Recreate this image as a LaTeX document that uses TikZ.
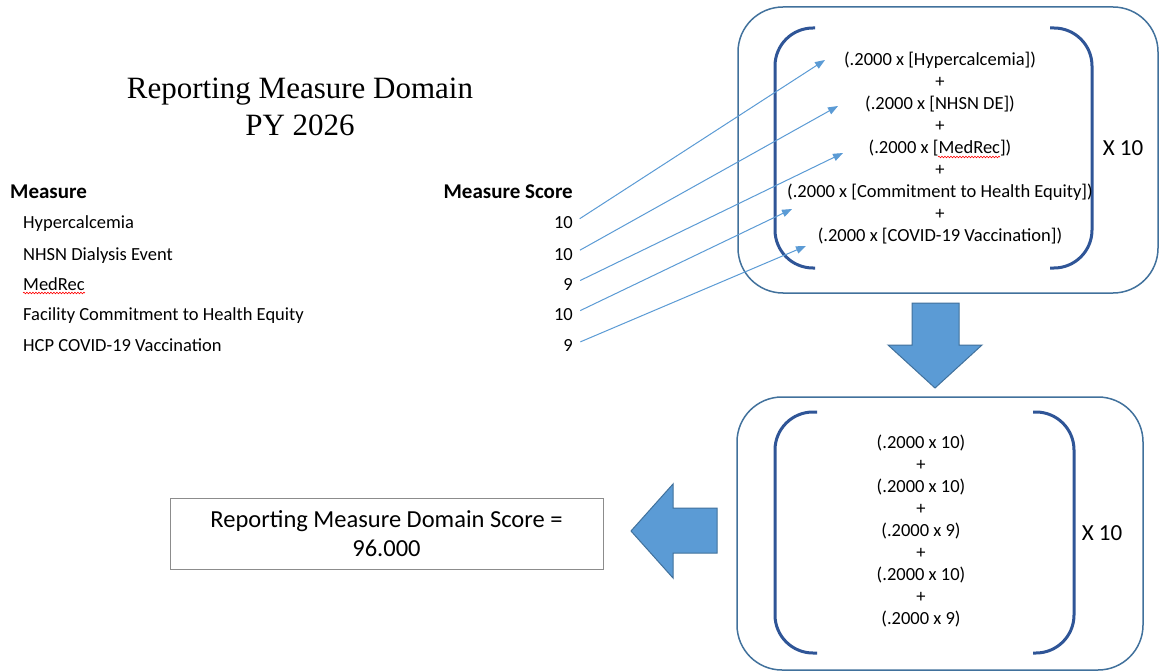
\documentclass[tikz,border=0pt]{standalone}
\usepackage{fontspec}
\setmainfont{Carlito}
\newfontfamily\titlefont{Liberation Serif}
\usetikzlibrary{arrows.meta,positioning,decorations.pathmorphing}
\definecolor{boxblue}{RGB}{65,113,156}
\definecolor{brackblue}{RGB}{47,85,151}
\definecolor{arrowblue}{RGB}{91,155,213}
\definecolor{framegray}{RGB}{140,140,140}

\begin{document}
\begin{tikzpicture}[x=1pt,y=-1pt,
  txt/.style={font=\fontsize{18.5}{22}\selectfont,inner sep=0pt},
  colhead/.style={font=\fontsize{21}{25}\selectfont\bfseries,inner sep=0pt},
  calc/.style={txt,align=center},
  times/.style={font=\fontsize{23}{27}\selectfont,inner sep=0pt},
  outer/.style={draw=boxblue,line width=1.5pt,rounded corners=45pt,inner sep=0pt,outer sep=0pt},
  brack/.style={draw=brackblue,line width=3pt,rounded corners=38pt},
  arr/.style={-{Triangle[length=10pt,width=7.5pt]},draw=arrowblue,line width=1pt,shorten <=8pt},
  block/.style={fill=arrowblue,draw=boxblue,line width=1pt,line join=miter},
  squig/.style={draw=red,line width=0.6pt,decorate,decoration={snake,amplitude=0.8pt,segment length=3pt}},
]
\fill[white] (0,0) rectangle (1159,671);
\useasboundingbox (0,0) rectangle (1159,671);

\node[font=\titlefont\fontsize{31}{37}\selectfont,align=center,inner sep=0pt] (title) at (300,106.5) {Reporting Measure Domain\\PY 2026};

\node[colhead,anchor=base west] (hmeas) at (10,199) {Measure};
\node[colhead,anchor=base east] (hscore) at (573,199) {Measure Score};

\node[txt,anchor=base west] (m1) at (23,229) {Hypercalcemia};
\node[txt,anchor=base west] (m2) at (23,260) {NHSN Dialysis Event};
\node[txt,anchor=base west] (m3) at (23,290) {MedRec};
\node[txt,anchor=base west] (m4) at (23,320) {Facility Commitment to Health Equity};
\node[txt,anchor=base west] (m5) at (23,351) {HCP COVID-19 Vaccination};
\node[txt,anchor=base east] (s1) at (573,229) {10};
\node[txt,anchor=base east] (s2) at (573,260) {10};
\node[txt,anchor=base east] (s3) at (573,290) {9};
\node[txt,anchor=base east] (s4) at (573,320) {10};
\node[txt,anchor=base east] (s5) at (573,351) {9};
\draw[squig] ([yshift=-3pt]m3.base west) -- ([yshift=-3pt]m3.base east);

\node[outer,minimum width=420pt,minimum height=286pt] (top) at (948,150) {};
\draw[brack] (815,28) -- (775,28) -- (775,268) -- (815,268);
\draw[brack] (1050,28) -- (1092,28) -- (1092,268) -- (1050,268);
\node[calc] (formula) at (940,148.5) {(.2000 x [Hypercalcemia])\\+\\(.2000 x [NHSN DE])\\+\\(.2000 x [MedRec])\\+\\(.2000 x [Commitment to Health Equity])\\+\\(.2000 x [COVID-19 Vaccination])};
\draw[squig] (938,157) -- (1000,157);
\node[times] (times1) at (1123,148) {X 10};

\coordinate (t1) at (825,60);
\coordinate (t2) at (838,106);
\coordinate (t3) at (843,153);
\coordinate (t4) at (792,209);
\coordinate (t5) at (806,246);
\draw[arr] (s1.east) -- (t1);
\draw[arr] (s2.east) -- (t2);
\draw[arr] (s3.east) -- (t3);
\draw[arr] (s4.east) -- (t4);
\draw[arr] (s5.east) -- (t5);

\filldraw[block] (912,303) -- (959,303) -- (959,345) -- (982,345) -- (935,388) -- (888,345) -- (912,345) -- cycle;

\node[outer,minimum width=406pt,minimum height=273pt] (bottom) at (940,533.5) {};
\draw[brack] (817,412) -- (775,412) -- (775,653) -- (817,653);
\draw[brack] (1033,412) -- (1074,412) -- (1074,653) -- (1033,653);
\node[calc] (values) at (921,531) {(.2000 x 10)\\+\\(.2000 x 10)\\+\\(.2000 x 9)\\+\\(.2000 x 10)\\+\\(.2000 x 9)};
\node[times] (times2) at (1102,533) {X 10};

\filldraw[block] (717,508) -- (717,553) -- (673,553) -- (673,578) -- (631,531) -- (673,484) -- (673,508) -- cycle;

\node[draw=framegray,line width=1pt,minimum width=433pt,minimum height=71pt,align=center,font=\fontsize{24.5}{29}\selectfont,inner sep=0pt] (result) at (386.5,533.5) {Reporting Measure Domain Score =\\96.000};
\end{tikzpicture}
\end{document}
